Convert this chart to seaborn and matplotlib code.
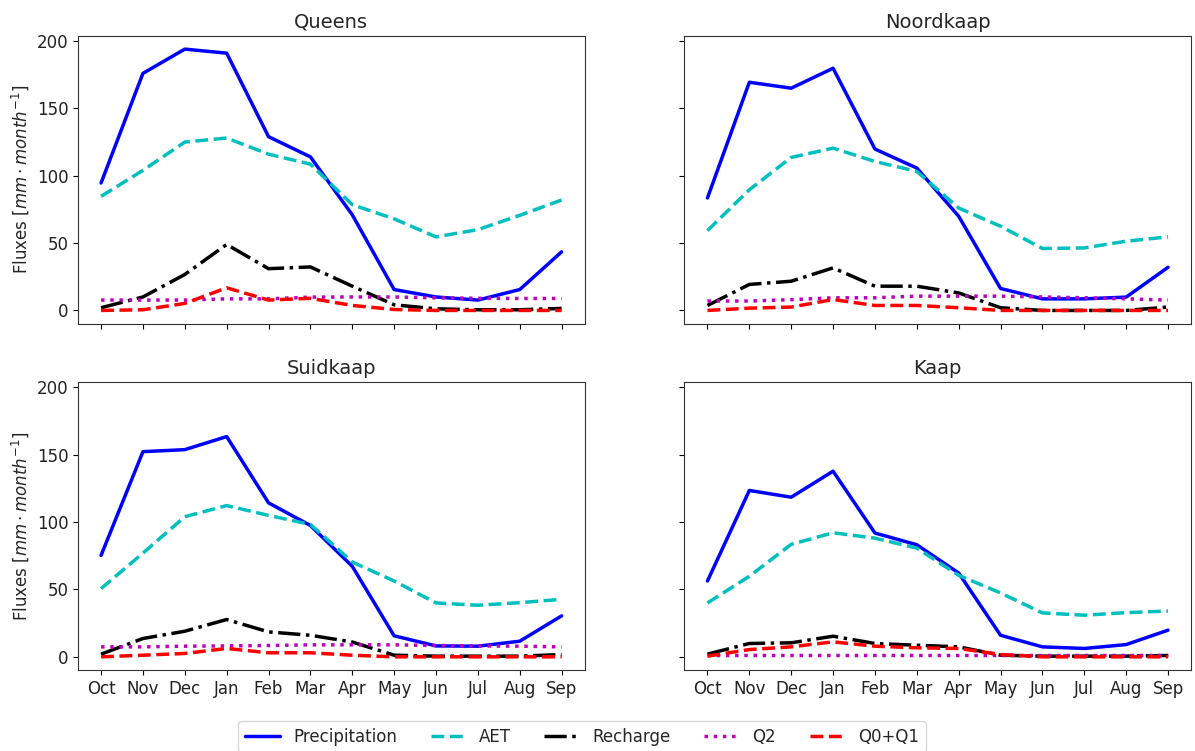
import matplotlib
matplotlib.use("Agg")
import matplotlib.pyplot as plt
import seaborn as sns
import pandas as pd

months = ["Oct", "Nov", "Dec", "Jan", "Feb", "Mar", "Apr", "May", "Jun", "Jul", "Aug", "Sep"]
regions = ["Queens", "Noordkaap", "Suidkaap", "Kaap"]

# Monthly water-balance fluxes (mm/month) per catchment
queens_precip = [94.6, 176, 194, 191, 129, 114, 71, 15.5, 10, 7.7, 15.5, 43.5]
queens_aet = [84.7, 104, 125, 128, 116, 108.6, 78.5, 68, 54.6, 60, 70.6, 82]
queens_recharge = [2, 10, 26.7, 49, 31, 32.3, 18, 4.2, 1.2, 0.5, 0.5, 1.5]
queens_q2 = [7.7, 7.7, 7.7, 8.6, 8.6, 9.9, 10, 10, 9.4, 9, 8.9, 8.9]
queens_q01 = [0, 0.5, 5.2, 16.8, 7.7, 9, 3.7, 0.7, 0, 0, 0, 0]

noord_precip = [83.5, 169.4, 165, 179.8, 119.8, 105.7, 69.9, 16.3, 8.6, 8.6, 9.9, 32]
noord_aet = [59.3, 89.6, 113.6, 120.5, 110.6, 103.2, 76, 62.5, 46, 46.4, 51.4, 54.6]
noord_recharge = [3.7, 19.3, 21.7, 31.6, 18, 18, 13, 2, 0, 0, 0, 2.5]
noord_q2 = [7, 7, 8, 9.4, 9.4, 10.6, 10.6, 10.6, 10, 9.4, 8.6, 7.7]
noord_q01 = [0, 1.7, 2.5, 8.1, 3.7, 3.7, 2, 0, 0, 0, 0, 0]

suid_precip = [75.3, 152.3, 153.8, 163.5, 114.3, 97.5, 67.2, 15.6, 8.1, 7.9, 11.6, 30.4]
suid_aet = [50.6, 77, 104, 112.3, 105, 98.3, 70.4, 56.3, 40, 38.3, 40.2, 42.7]
suid_recharge = [2, 13.6, 19, 27.7, 18.5, 16, 11, 1.2, 0.5, 0.5, 0.5, 1.7]
suid_q2 = [7.4, 7.4, 7.9, 8.1, 8.4, 8.9, 8.9, 8.9, 8.4, 8.1, 7.9, 7.4]
suid_q01 = [0, 1.2, 2.5, 6.2, 3, 3, 1.2, 0, 0, 0, 0, 0]

kaap_precip = [56.3, 123.5, 118.5, 137.8, 91.9, 83.2, 62.2, 16, 7.4, 6.2, 9.1, 19.8]
kaap_aet = [40, 59.8, 83.5, 92.1, 88.1, 80.7, 60.5, 47.4, 32.6, 30.9, 32.8, 34]
kaap_recharge = [2, 9.9, 10.4, 15.3, 9.9, 8.6, 7.4, 1.2, 0.5, 0.5, 0.5, 1]
kaap_q2 = [1.7, 1.7, 1.7, 1.7, 1.7, 1.7, 1.7, 1.7, 1.7, 1.7, 1.7, 1.7]
kaap_q01 = [0.5, 5.4, 7.4, 11.1, 7.9, 6.7, 6.2, 1.7, 0, 0, 0, 0]

series_names = ["Precipitation", "AET", "Recharge", "Q2", "Q0+Q1"]
series_colors = ["b", "c", "k", "m", "r"]
series_styles = ["-", "--", "-.", ":", "--"]

data = {
    "Queens": [queens_precip, queens_aet, queens_recharge, queens_q2, queens_q01],
    "Noordkaap": [noord_precip, noord_aet, noord_recharge, noord_q2, noord_q01],
    "Suidkaap": [suid_precip, suid_aet, suid_recharge, suid_q2, suid_q01],
    "Kaap": [kaap_precip, kaap_aet, kaap_recharge, kaap_q2, kaap_q01],
}

sns.set_style("ticks")
plt.rcParams["font.family"] = ["DejaVu Sans"]
plt.rcParams["font.size"] = 12

fig, axes = plt.subplots(2, 2, figsize=(11.95, 7.51), dpi=100, sharex=True, sharey=True)
fig.subplots_adjust(left=0.0653, right=0.9967, top=0.952, bottom=0.108, hspace=0.205, wspace=0.197)

for ax, region in zip(axes.flat, regions):
    for name, values, color, ls in zip(series_names, data[region], series_colors, series_styles):
        df = pd.DataFrame({"month": months, "flux": values})
        sns.lineplot(data=df, x="month", y="flux", ax=ax, color=color,
                     linestyle=ls, linewidth=2.5, label=name, legend=False, sort=False)
    ax.set_title(region, fontsize=14)
    ax.set_xlabel("")
    ax.set_ylabel("")
    ax.set_yticks([0, 50, 100, 150, 200])
    ax.tick_params(labelsize=12, colors="black", labelcolor="#222222")
    for sp in ax.spines.values():
        sp.set_color("#333333")

axes[0, 0].set_xlim(-0.55, 11.55)
axes[0, 0].set_ylim(-9.7, 203.7)
for ax in axes[:, 0]:
    ax.set_ylabel(r"Fluxes [$mm \cdot month^{-1}$]", fontsize=12)

handles, labels = axes[0, 0].get_legend_handles_labels()
fig.legend(handles, labels, loc="lower center", ncol=5, bbox_to_anchor=(0.487, -0.013),
           fontsize=12, frameon=True, handlelength=2.1, handletextpad=0.8,
           columnspacing=2.0)

fig.savefig("out.png", dpi=100)
